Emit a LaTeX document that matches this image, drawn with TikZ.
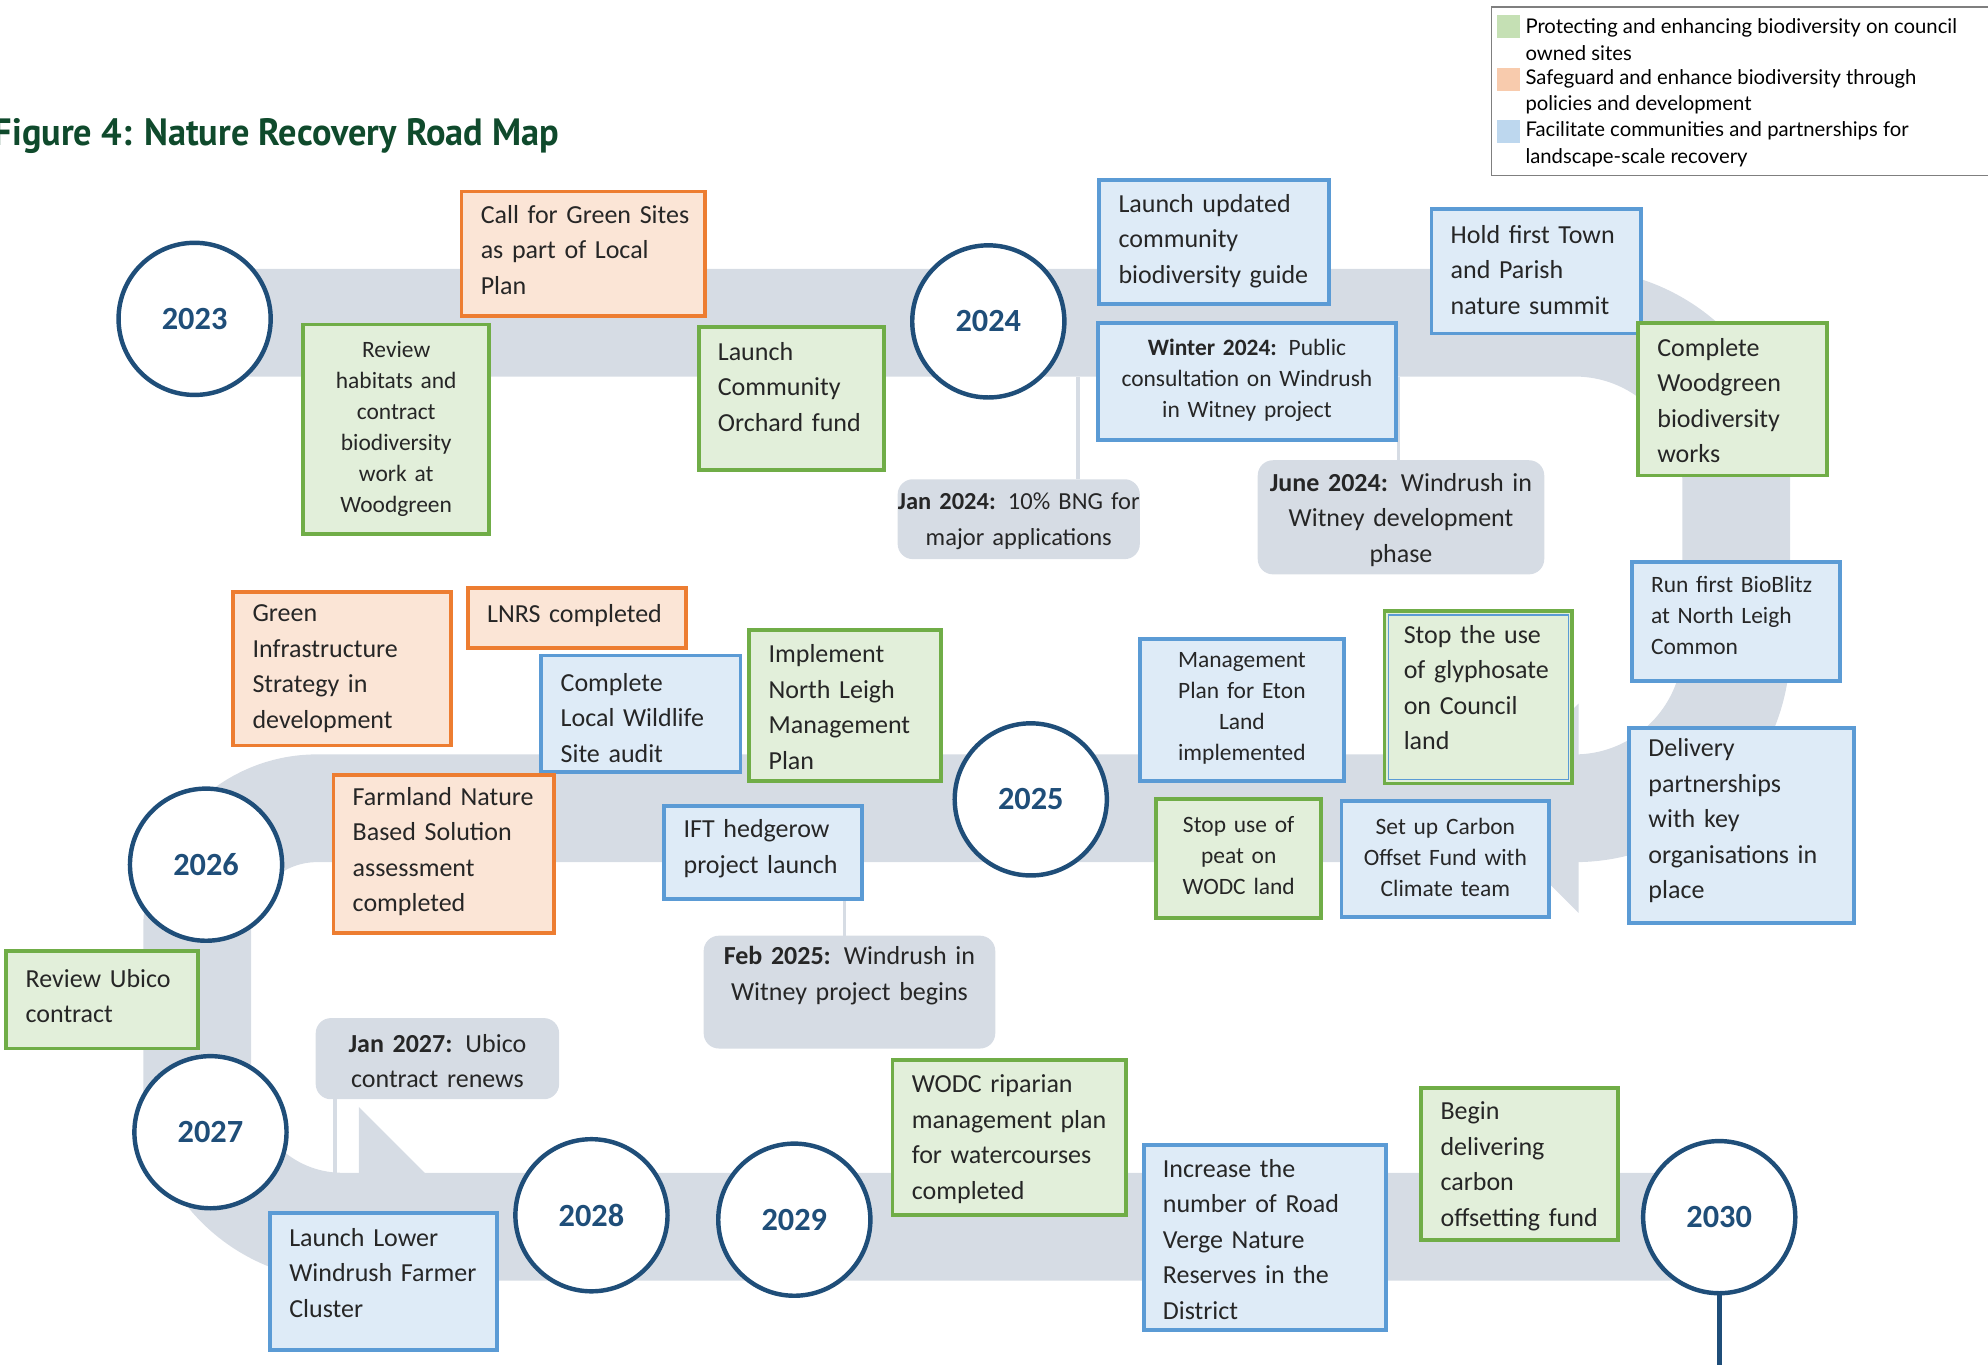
\documentclass[tikz,border=0pt]{standalone}
\usepackage{fontspec}
\setmainfont{Carlito}
\newfontfamily\legendfont{Lato}
\newfontfamily\titlefont{PT Sans}
\usetikzlibrary{backgrounds}
\definecolor{road}{HTML}{D6DCE4}
\definecolor{yearblue}{HTML}{1F4E79}
\definecolor{gfill}{HTML}{E2EFDA}\definecolor{gline}{HTML}{70AD47}
\definecolor{ofill}{HTML}{FBE5D6}\definecolor{oline}{HTML}{ED7D31}
\definecolor{bfill}{HTML}{DEEBF7}\definecolor{bline}{HTML}{5B9BD5}
\definecolor{lgreen}{HTML}{C5E0B4}\definecolor{lorange}{HTML}{F8CBAD}\definecolor{lblue}{HTML}{BDD7EE}
\definecolor{titlegreen}{HTML}{0F4A2C}
\definecolor{txt}{HTML}{262626}
\definecolor{legendgray}{HTML}{7F7F7F}
\tikzset{
  boxbase/.style={draw, line width=3pt, inner sep=0pt, outer sep=0pt},
  gbox/.style={boxbase, draw=gline, fill=gfill},
  obox/.style={boxbase, draw=oline, fill=ofill},
  bbox/.style={boxbase, draw=bline, fill=bfill},
  callout/.style={fill=road, rounded corners=12pt, inner sep=0pt, outer sep=0pt},
  boxtext/.style={inner sep=0pt, text=txt},
  big/.style={boxtext, font=\fontsize{20.5}{28}\selectfont},
  tight/.style={boxtext, font=\fontsize{19.3}{28}\selectfont},
  small/.style={boxtext, font=\fontsize{18.5}{24.5}\selectfont},
  year/.style={circle, draw=yearblue, line width=3.5pt, fill=white, minimum size=120pt,
    inner sep=0pt, text=yearblue, font=\fontsize{25.5}{30}\selectfont\bfseries},
  link/.style={draw=road, line width=3pt},
  sq/.style={minimum size=18pt, inner sep=0pt},
  legtext/.style={anchor=west, align=left, inner sep=0pt, text=black,
    font=\legendfont\fontsize{16}{21}\selectfont},
}
% #1 box style, #2 text style, #3 name, #4 x1, #5 y1, #6 x2, #7 y2, #8 dy, #9 text
\newcommand\lbox[9]{%
  \pgfmathsetmacro\bw{#6-#4}%
  \pgfmathsetmacro\bh{#7-#5}%
  \pgfmathsetmacro\bcx{(#4+#6)/2}%
  \pgfmathsetmacro\bcy{(#5+#7)/2}%
  \pgfmathsetmacro\bty{\bcy+(#8)}%
  \pgfmathsetmacro\btx{#4+15}%
  \pgfmathsetmacro\tw{\bw-20}%
  \node[#1, minimum width=\bw pt, minimum height=\bh pt] (#3) at (\bcx,\bcy) {};
  \node[#2, text width=\tw pt, align=left, anchor=west] (#3-t) at (\btx,\bty) {#9};
}
\newcommand\cbox[9]{%
  \pgfmathsetmacro\bw{#6-#4}%
  \pgfmathsetmacro\bh{#7-#5}%
  \pgfmathsetmacro\bcx{(#4+#6)/2}%
  \pgfmathsetmacro\bcy{(#5+#7)/2}%
  \pgfmathsetmacro\bty{\bcy+(#8)}%
  \pgfmathsetmacro\tw{\bw+20}%
  \node[#1, minimum width=\bw pt, minimum height=\bh pt] (#3) at (\bcx,\bcy) {};
  \node[#2, text width=\tw pt, align=center] (#3-t) at (\bcx,\bty) {#9};
}
\begin{document}
\begin{tikzpicture}[x=1pt,y=-1pt]
\useasboundingbox (0,0) rectangle (1568,1076);

% title
\node[anchor=base west, inner sep=0pt, text=titlegreen] (title) at (-5,115)
  {\scalebox{0.955}[1]{\titlefont\bfseries\fontsize{30}{36}\selectfont Figure 4: Nature Recovery Road Map}};

% legend
\node[draw=legendgray, line width=1pt, minimum width=410pt, minimum height=133pt,
  anchor=north west, inner sep=0pt] (legend) at (1176,5) {};
\node[sq, fill=lgreen] (sq1) at (1190,21) {};
\node[sq, fill=lorange] (sq2) at (1190,63) {};
\node[sq, fill=lblue] (sq3) at (1190,104) {};
\node[legtext] (lt1) at (1203,31) {Protecting and enhancing biodiversity on council\\owned sites};
\node[legtext] (lt2) at (1203,72.5) {Safeguard and enhance biodiversity through\\policies and development};
\node[legtext] (lt3) at (1203,114) {Facilitate communities and partnerships for\\landscape-scale recovery};

% years
\node[year] (y2023) at (153.5,251.5) {2023};
\node[year] (y2024) at (779.5,253.5) {2024};
\node[year] (y2025) at (813,630.5) {2025};
\node[year] (y2026) at (162.5,682) {2026};
\node[year] (y2027) at (166,893) {2027};
\node[year] (y2028) at (466.5,958.5) {2028};
\node[year] (y2029) at (626.5,962) {2029};
\node[year] (y2030) at (1356,960) {2030};

% boxes
\lbox{obox}{big}{greensites}{364}{151}{556}{249}{-3}{Call for Green Sites\\as part of Local\\Plan}
\cbox{gbox}{small}{habitats}{239}{256}{386}{421}{0}{Review\\habitats and\\contract\\biodiversity\\work at\\Woodgreen}
\lbox{gbox}{big}{orchard}{551}{258}{697}{371}{-9.5}{Launch\\Community\\Orchard fund}
\lbox{bbox}{big}{guide}{867}{142}{1048}{240}{-1}{Launch updated\\community\\biodiversity guide}
\cbox{bbox}{small}{winter}{866}{255}{1101}{347}{-1}{\textbf{Winter 2024:} Public\\consultation on Windrush\\in Witney project}
\cbox{callout}{tight}{jan24}{708}{378}{899}{441}{1.5}{\textbf{Jan 2024:} 10\% BNG for\\major applications}
\cbox{callout}{big}{june24}{992}{363}{1218}{453}{2}{\textbf{June 2024:} Windrush in\\Witney development\\phase}
\lbox{bbox}{big}{summit}{1129}{165}{1294}{263}{-1}{Hold first Town\\and Parish\\nature summit}
\lbox{gbox}{big}{woodgreen}{1292}{255}{1441}{375}{1}{Complete\\Woodgreen\\biodiversity\\works}
\lbox{bbox}{small}{bioblitz}{1287}{443}{1451}{537}{-4.5}{Run first BioBlitz\\at North Leigh\\Common}
\lbox{bbox}{big}{delivery}{1285}{574}{1462}{728}{-3.5}{Delivery\\partnerships\\with key\\organisations in\\place}
\lbox{gbox}{big}{glyph}{1092}{482}{1240}{618}{-7.5}{Stop the use\\of glyphosate\\on Council\\land}
\draw[bline, line width=1pt] ([shift={(3,3)}]glyph.north west) rectangle ([shift={(-3,-3)}]glyph.south east);
\cbox{bbox}{small}{eton}{899}{504}{1060}{616}{-1}{Management\\Plan for Eton\\Land\\implemented}
\cbox{gbox}{small}{peat}{912}{630}{1042}{724}{-2}{Stop use of\\peat on\\WODC land}
\cbox{bbox}{small}{carbon}{1058}{632}{1222}{723}{-1}{Set up Carbon\\Offset Fund with\\Climate team}
\lbox{gbox}{big}{northleigh}{591}{497}{742}{616}{1}{Implement\\North Leigh\\Management\\Plan}
\lbox{bbox}{big}{wildlife}{427}{517}{584}{609}{3}{Complete\\Local Wildlife\\Site audit}
\lbox{obox}{big}{lnrs}{369}{464}{541}{511}{-2}{LNRS completed}
\lbox{obox}{big}{greeninfra}{184}{467}{356}{588}{0}{Green\\Infrastructure\\Strategy in\\development}
\lbox{obox}{big}{farmland}{263}{611}{437}{736}{-2}{Farmland Nature\\Based Solution\\assessment\\completed}
\lbox{bbox}{big}{ift}{524}{636}{680}{709}{-3}{IFT hedgerow\\project launch}
\cbox{callout}{big}{feb25}{555}{738}{785}{827}{-13}{\textbf{Feb 2025:} Windrush in\\Witney project begins}
\lbox{gbox}{big}{ubico}{5}{750}{156}{827}{-3}{Review Ubico\\contract}
\cbox{callout}{big}{jan27}{249}{803}{441}{867}{2}{\textbf{Jan 2027:} Ubico\\contract renews}
\lbox{bbox}{big}{lower}{213}{957}{392}{1065}{-7}{Launch Lower\\Windrush Farmer\\Cluster}
\lbox{gbox}{big}{riparian}{704}{836}{888}{958}{1.5}{WODC riparian\\management plan\\for watercourses\\completed}
\lbox{bbox}{big}{verge}{902}{903}{1093}{1049}{1.5}{Increase the\\number of Road\\Verge Nature\\Reserves in the\\District}
\lbox{gbox}{big}{begin}{1121}{858}{1276}{978}{2}{Begin\\delivering\\carbon\\offsetting fund}

% end line of 2030
\coordinate (bottomend) at (1356,1085);
\draw[yearblue, line width=4pt] (y2030.south) -- (bottomend);

\begin{scope}[on background layer]
  % road
  \draw[road, line width=85pt] (160,254.5) -- (1242,254.5)
    arc[start angle=-90, end angle=0, radius=127.5] -- (1369.5,510)
    arc[start angle=0, end angle=90, radius=127.5] -- (250,637.5)
    arc[start angle=-90, end angle=-180, radius=94.5] -- (155.5,853)
    arc[start angle=180, end angle=90, radius=114.5] -- (1356,967.5);
  \fill[road] (1245,555) -- (1245,720) -- (1162.5,637.5) -- cycle;
  \fill[road] (283,873) -- (283,1062) -- (377.5,967.5) -- cycle;
  % links
  \coordinate (r1) at (850,297);
  \coordinate (r2) at (1103,297);
  \coordinate (r3) at (666,680);
  \coordinate (r4) at (264,925);
  \draw[link] (r1) -- (r1 |- jan24.north);
  \draw[link] (r2) -- (r2 |- june24.north);
  \draw[link] (r3) -- (r3 |- feb25.north);
  \draw[link] (r4) -- (r4 |- jan27.south);
\end{scope}
\end{tikzpicture}
\end{document}
